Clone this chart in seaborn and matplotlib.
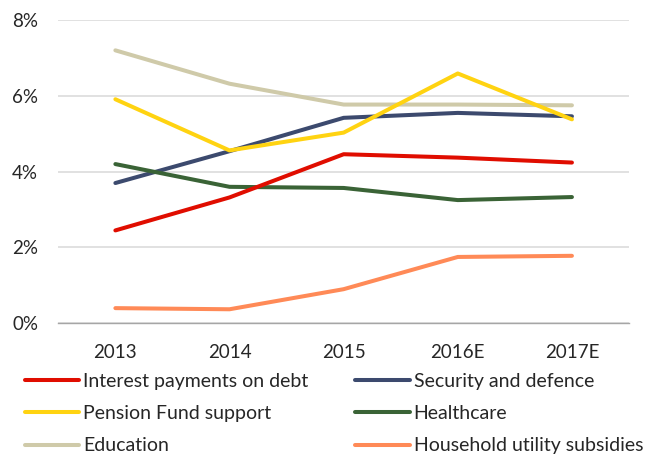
import matplotlib
matplotlib.use('Agg')
import matplotlib.pyplot as plt
import pandas as pd
import seaborn as sns

# Data (% of total spending)
years = ['2013', '2014', '2015', '2016E', '2017E']
interest = [2.45, 3.32, 4.46, 4.37, 4.24]
security = [3.70, 4.54, 5.42, 5.55, 5.46]
pension = [5.91, 4.56, 5.03, 6.59, 5.38]
healthcare = [4.20, 3.60, 3.57, 3.25, 3.33]
education = [7.20, 6.32, 5.77, 5.77, 5.75]
household = [0.40, 0.37, 0.90, 1.75, 1.78]

series = {
    'Interest payments on debt': interest,
    'Security and defence': security,
    'Pension Fund support': pension,
    'Healthcare': healthcare,
    'Education': education,
    'Household utility subsidies': household,
}
colors = {
    'Interest payments on debt': '#E00D00',
    'Security and defence': '#3C4A6E',
    'Pension Fund support': '#FFD311',
    'Healthcare': '#3A6336',
    'Education': '#CFCAA9',
    'Household utility subsidies': '#FF8A57',
}

rows = []
for name, vals in series.items():
    for i, v in enumerate(vals):
        rows.append({'series': name, 'pos': i, 'value': v})
df = pd.DataFrame(rows)

sns.set_style('white')
plt.rcParams['font.family'] = ['Lato', 'DejaVu Sans']

fig = plt.figure(figsize=(6.5, 4.54), dpi=100)
ax = fig.add_axes([0.0897, 0.2879, 0.878, 0.668])

# drawing order (bottom to top) as seen at the crossings
draw_order = ['Education', 'Security and defence', 'Healthcare',
              'Interest payments on debt', 'Pension Fund support',
              'Household utility subsidies']
sns.lineplot(data=df, x='pos', y='value', hue='series', hue_order=draw_order,
             palette=colors, linewidth=2.9, ax=ax, legend=False,
             solid_capstyle='round', solid_joinstyle='round')

ax.set_xlim(-0.5, 4.5)
ax.set_ylim(0, 8)
ax.set_yticks([0, 2, 4, 6, 8])
ax.set_yticklabels(['0%', '2%', '4%', '6%', '8%'])
ax.yaxis.grid(True, color='#D9D9D9', linewidth=1.1)
ax.set_axisbelow(True)

ax.set_xticks(range(len(years)))
ax.set_xticklabels(years)
ax.set_xticks([-0.5, 0.5, 1.5, 2.5, 3.5, 4.5], minor=True)
ax.tick_params(axis='x', which='major', length=0, pad=15, labelsize=13.5)
ax.tick_params(axis='x', which='minor', length=5, color='#A6A6A6', width=1)
ax.tick_params(axis='y', length=0, pad=14.5, labelsize=13.5)
ax.set_xlabel('')
ax.set_ylabel('')

for s in ['top', 'right', 'left']:
    ax.spines[s].set_visible(False)
ax.spines['bottom'].set_color('#A6A6A6')
ax.spines['bottom'].set_linewidth(1)

# legend laid out row-wise as in the reference
order = ['Interest payments on debt', 'Pension Fund support', 'Education',
         'Security and defence', 'Healthcare', 'Household utility subsidies']
handles = [plt.Line2D([0], [0], color=colors[n], linewidth=2.9,
                      solid_capstyle='round') for n in order]
fig.legend(handles, order, ncol=2, loc='upper left',
           bbox_to_anchor=(0.0385, 0.179), frameon=False, fontsize=14,
           handlelength=2.8, handletextpad=0.2, columnspacing=2.4,
           labelspacing=0.79, borderaxespad=0, borderpad=0)

fig.savefig('out.png', dpi=100)
